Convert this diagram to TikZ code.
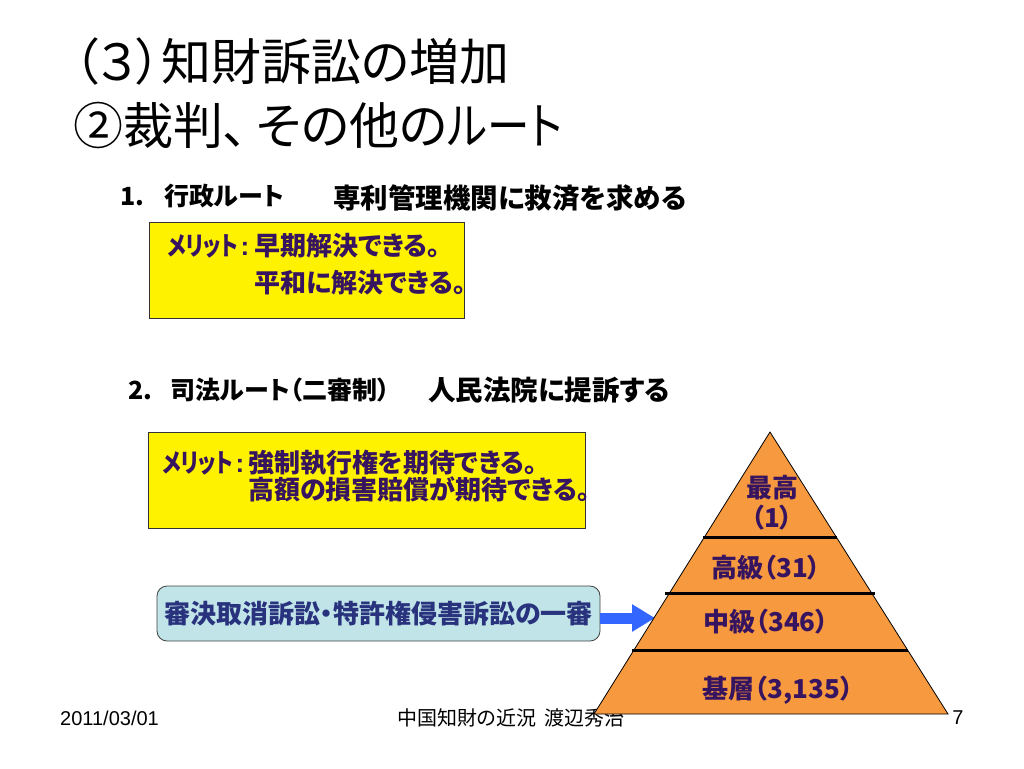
\documentclass[tikz,border=0pt]{standalone}
\usepackage{fontspec}
\usepackage{graphicx}
\setmainfont{Liberation Sans}
\newfontfamily\jp{Noto Sans CJK JP}[RawFeature=+palt]
\usetikzlibrary{arrows.meta}
\definecolor{ttxt}{RGB}{55,20,95}
\definecolor{btxt}{RGB}{40,50,125}
\definecolor{bfill}{RGB}{192,228,232}
\definecolor{pyrfill}{RGB}{247,153,62}
\definecolor{arrblue}{RGB}{51,102,255}
\newcommand{\meritlabel}[1]{\makebox[#1][l]{\scalebox{0.8}[1]{メリット}\hspace{2pt}{\rmfamily\bfseries :}}}
\begin{document}
\begin{tikzpicture}[x=1pt,y=-1pt,
  titletext/.style={anchor=west, inner sep=0pt, font=\jp\fontsize{50}{58}\selectfont},
  headL/.style={anchor=west, inner sep=0pt, font=\jp\bfseries\fontsize{25}{30}\selectfont},
  headR/.style={anchor=west, inner sep=0pt, font=\jp\bfseries\fontsize{27.5}{32}\selectfont},
  ybox/.style={draw=black!80, fill=yellow, line width=0.8pt, anchor=north west, inner sep=0pt},
  btext/.style={anchor=west, inner sep=0pt, align=left, text=ttxt, font=\jp\bfseries\fontsize{26}{30}\selectfont},
  bbox/.style={draw=black!75, fill=bfill, line width=0.8pt, rounded corners=10pt, inner sep=0pt, text=btxt, font=\jp\bfseries\fontsize{26}{30}\selectfont},
  pyrtext/.style={inner sep=0pt, align=center, text=ttxt, font=\jp\bfseries\fontsize{26}{30}\selectfont},
  foot/.style={inner sep=0pt, font=\fontsize{20}{24}\selectfont},
  arr/.style={draw=arrblue, line width=11pt, -{Triangle[length=23pt,width=26pt]}},
  tier/.style={line width=3pt, black}
]
\useasboundingbox (0,0) rectangle (1024,768);
\fill[white] (0,0) rectangle (1024,768);

% titles
\node[titletext] (t1) at (73,62) {（３）知財訴訟の増加};
\node[titletext] (t2) at (73,125) {②裁判、\hspace{8pt}その他の\scalebox{0.85}[1]{ルート}};

% section 1
\node[headL] (h1) at (120,196) {1.\hspace{20pt}行政ルート};
\node[headR] (h1r) at (333,198) {専利管理機関に救済を求める};
\node[ybox, minimum width=315pt, minimum height=96pt] (y1) at (149,222) {};
\node[btext] (m1) at (167,264.5) {\meritlabel{87pt}早期解決できる。\\[7pt]\hspace*{87pt}平和に解決できる。};

% section 2
\node[headL] (h2) at (128,390) {2.\hspace{18pt}司法ルート（二審制）};
\node[headR] (h2r) at (428,390) {人民法院に提訴する};
\node[ybox, minimum width=437pt, minimum height=96pt] (y2) at (148,432) {};
\node[btext] (m2) at (162,476.5) {\meritlabel{86pt}強制執行権を期待できる。\\[-3pt]\hspace*{86pt}高額の損害賠償が期待できる。};

% blue box and arrow
\node[bbox, minimum width=443pt, minimum height=55pt] (bb) at (378.5,613.5) {審決取消訴訟・特許権侵害訴訟の一審};
\coordinate (tip) at (655,618);
\draw[arr] ([yshift=-4.5pt]bb.east) -- (tip);

% footer
\node[foot, anchor=west] (date) at (60,718) {2011/03/01};
\node[foot, anchor=west, font=\jp\fontsize{20}{24}\selectfont] (ft) at (397,718) {中国知財の近況\hspace{8pt}渡辺秀治};
\node[foot, anchor=center] (pg) at (958,718) {7};

% pyramid
\filldraw[fill=pyrfill, draw=black, line width=0.8pt] (770,432) -- (948,714) -- (594,714) -- cycle;
\draw[tier] (703,537) -- (837,537);
\draw[tier] (665,593) -- (875,593);
\draw[tier] (632,650) -- (908,650);
\node[pyrtext] (p1) at (772,503) {最高\\（1）};
\node[pyrtext] (p2) at (766,568) {高級（31）};
\node[pyrtext] (p3) at (766,622) {中級（346）};
\node[pyrtext] (p4) at (778,690) {基層（3,135）};
\end{tikzpicture}
\end{document}
